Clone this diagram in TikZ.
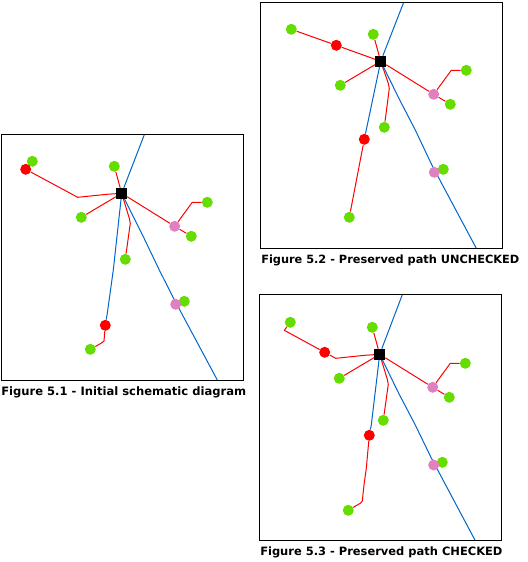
\documentclass[tikz,border=0pt]{standalone}
\usepackage{fontspec}
\setmainfont{DejaVu Sans}
\usetikzlibrary{backgrounds}
\definecolor{nodegreen}{HTML}{66DD00}
\definecolor{nodepink}{HTML}{E080C0}
\definecolor{linkblue}{HTML}{0066CC}
\begin{document}
\begin{tikzpicture}[
    x=0.75pt, y=-0.75pt,
    frame/.style={rectangle, draw=black, line width=0.75pt, inner sep=0pt},
    plant/.style={circle, fill=nodegreen, inner sep=0pt, minimum size=8.25pt},
    junction/.style={circle, fill=red, inner sep=0pt, minimum size=8.25pt},
    station/.style={circle, fill=nodepink, inner sep=0pt, minimum size=8.25pt},
    hub/.style={rectangle, fill=black, inner sep=0pt, minimum size=8pt},
    feeder/.style={draw=red, line width=0.75pt, line join=round},
    main/.style={draw=linkblue, line width=0.75pt, line join=round},
    caption/.style={anchor=west, inner sep=0pt, font=\fontsize{8.6pt}{10pt}\selectfont\bfseries}
]
\useasboundingbox (0,0) rectangle (528,562);

% Figure 5.1 - left
\node[frame, minimum width=181.5pt, minimum height=184.5pt] (frame1) at (122.2,257.3) {};
\node[caption, font=\fontsize{8.67pt}{10pt}\selectfont\bfseries] (caption1) at (1,392.5) {Figure 5.1 - Initial schematic diagram};

\node[plant] (a1) at (32.3,161.3) {};
\node[junction] (b1) at (25.7,169.3) {};
\node[plant] (c1) at (114.3,166.3) {};
\node[plant] (d1) at (81.3,217.3) {};
\node[plant] (e1) at (207.3,202.3) {};
\node[plant] (f1) at (191.3,236.3) {};
\node[plant] (g1) at (125.3,259.3) {};
\node[plant] (h1) at (184.3,301.3) {};
\node[plant] (i1) at (90.3,349.3) {};
\node[station] (p1) at (174.7,226.3) {};
\node[station] (q1) at (175.7,304.3) {};
\node[junction] (r1) at (105.3,325.3) {};
\node[hub] (hub1) at (121.7,193.3) {};

\coordinate (top1) at (144.3,134.7);
\coordinate (end1) at (217.3,380);

\begin{scope}[on background layer]
\draw[main] (top1) -- (hub1);
\draw[main] (hub1) -- (113.3,270) -- (107.3,313.3) -- (r1);
\draw[main] (hub1) -- (141.7,233.3) -- (159.3,270) -- (172.7,296.7) -- (end1);
\draw[feeder] (b1) -- (77.7,197.3) -- (106.7,194.3) -- (hub1);
\draw[feeder] (c1) -- (hub1);
\draw[feeder] (d1) -- (hub1);
\draw[feeder] (hub1) -- (p1);
\draw[feeder] (p1) -- (192.3,202.3) -- (e1);
\draw[feeder] (p1) -- (f1);
\draw[feeder] (hub1) -- (129.3,218.3) -- (130.3,223.3) -- (g1);
\draw[feeder] (r1) -- (104,341) -- (101,343.3) -- (i1);
\end{scope}

% Figure 5.2 - top right
\node[frame, minimum width=181.5pt, minimum height=184.5pt] (frame2) at (381.5,125.3) {};
\node[caption, font=\fontsize{8.5pt}{10pt}\selectfont\bfseries] (caption2) at (261,260) {Figure 5.2 - Preserved path UNCHECKED};

\node[plant] (a2) at (291.3,29.3) {};
\node[junction] (b2) at (336.3,45.3) {};
\node[plant] (c2) at (373.3,34.3) {};
\node[plant] (d2) at (340.3,85.3) {};
\node[plant] (e2) at (466.3,70.3) {};
\node[plant] (f2) at (450.3,104.3) {};
\node[plant] (g2) at (384.3,127.3) {};
\node[plant] (h2) at (443.3,169.3) {};
\node[plant] (i2) at (349.3,217.3) {};
\node[station] (p2) at (433.7,94.3) {};
\node[station] (q2) at (434.3,172.3) {};
\node[junction] (r2) at (364.3,139.3) {};
\node[hub] (hub2) at (380.7,61.3) {};

\coordinate (top2) at (403.7,2.3);
\coordinate (end2) at (476.3,248.3);

\begin{scope}[on background layer]
\draw[main] (top2) -- (hub2);
\draw[main] (hub2) -- (r2);
\draw[main] (hub2) -- (399.7,100) -- (415.3,130) -- (431.7,164.7) -- (end2);
\draw[feeder] (a2) -- (b2);
\draw[feeder] (b2) -- (hub2);
\draw[feeder] (c2) -- (hub2);
\draw[feeder] (d2) -- (hub2);
\draw[feeder] (hub2) -- (p2);
\draw[feeder] (p2) -- (451.3,70.3) -- (e2);
\draw[feeder] (p2) -- (f2);
\draw[feeder] (hub2) -- (388.3,83.3) -- (389.3,88.3) -- (g2);
\draw[feeder] (r2) -- (i2);
\end{scope}

% Figure 5.3 - bottom right
\node[frame, minimum width=181.5pt, minimum height=184.5pt] (frame3) at (380.5,417.7) {};
\node[caption] (caption3) at (260,552.5) {Figure 5.3 - Preserved path CHECKED};

\node[plant] (a3) at (290.3,322.3) {};
\node[junction] (b3) at (324.7,352.3) {};
\node[plant] (c3) at (372.3,327.3) {};
\node[plant] (d3) at (339.3,378.3) {};
\node[plant] (e3) at (465.3,363.3) {};
\node[plant] (f3) at (449.3,397.3) {};
\node[plant] (g3) at (383.3,420.3) {};
\node[plant] (h3) at (442.3,462.3) {};
\node[plant] (i3) at (348.3,510.3) {};
\node[station] (p3) at (432.7,387.3) {};
\node[station] (q3) at (433.7,465) {};
\node[junction] (r3) at (369.3,435.3) {};
\node[hub] (hub3) at (379.7,354.3) {};

\coordinate (top3) at (402.3,294.7);
\coordinate (end3) at (475.3,540.7);

\begin{scope}[on background layer]
\draw[main] (top3) -- (hub3);
\draw[main] (hub3) -- (371.3,425) -- (r3);
\draw[main] (hub3) -- (398.7,393.3) -- (415.3,425) -- (431,457.4) -- (end3);
\draw[feeder] (a3) -- (284.3,330.3) -- (b3);
\draw[feeder] (b3) -- (335.7,358.3) -- (364.7,355.3) -- (hub3);
\draw[feeder] (c3) -- (hub3);
\draw[feeder] (d3) -- (hub3);
\draw[feeder] (hub3) -- (p3);
\draw[feeder] (p3) -- (450.3,363.3) -- (e3);
\draw[feeder] (p3) -- (f3);
\draw[feeder] (hub3) -- (387.3,379.3) -- (388.3,384.3) -- (g3);
\draw[feeder] (r3) -- (366.3,468.3) -- (364,485) -- (362.3,501) -- (360.7,503) -- (i3);
\end{scope}

\end{tikzpicture}
\end{document}
